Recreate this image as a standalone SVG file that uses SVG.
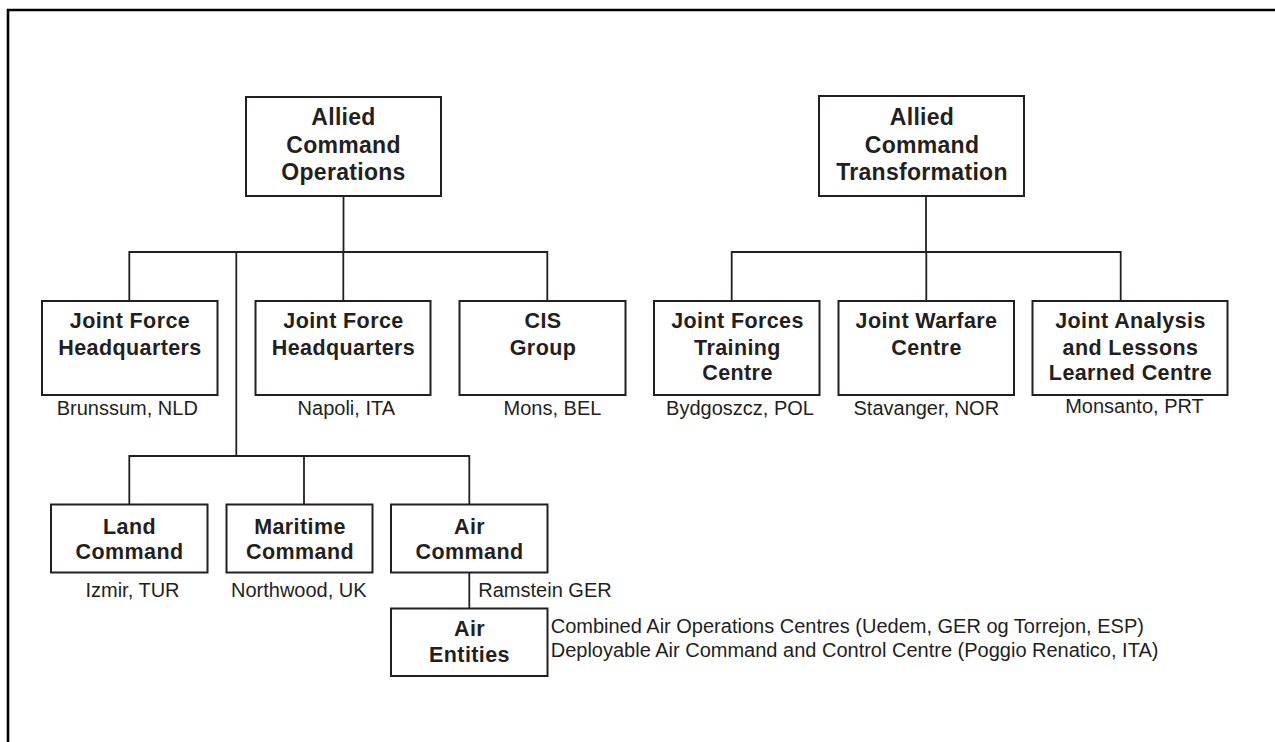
<svg xmlns="http://www.w3.org/2000/svg" width="1275" height="742" viewBox="0 0 1275 742">
<style>
.box{fill:#fff;stroke:#231f20;stroke-width:2}
.t1{font-family:"Liberation Sans",Arial,sans-serif;font-weight:bold;font-size:23px;letter-spacing:0.3px;fill:#231f20;text-anchor:middle}
.t2{font-family:"Liberation Sans",Arial,sans-serif;font-weight:bold;font-size:21.5px;letter-spacing:0.4px;fill:#231f20;text-anchor:middle}
.loc{font-family:"Liberation Sans",Arial,sans-serif;font-size:20px;fill:#231f20;text-anchor:middle}
.note{font-family:"Liberation Sans",Arial,sans-serif;font-size:20px;fill:#231f20}
.con{fill:none;stroke:#231f20;stroke-width:1.8}
</style>
<rect width="1275" height="742" fill="#fff"/>
<path d="M8,742 V10 H1275" fill="none" stroke="#000" stroke-width="2.6"/>

<g id="connectors" class="con">
<path d="M343.5,196 V252"/>
<path d="M129.3,301 V252 H547.3 V301"/>
<path d="M236.3,252 V456"/>
<path d="M343.3,252 V301"/>
<path d="M926,196 V252"/>
<path d="M731.7,301 V252 H1120.7 V301"/>
<path d="M926.3,252 V301"/>
<path d="M129.3,504.5 V456 H469.3 V504.5"/>
<path d="M304,456 V504.5"/>
<path d="M469.3,572.5 V611"/>
</g>

<g id="aco">
<rect class="box" x="246" y="97" width="195" height="99"/>
<text class="t1" x="343.5" y="125">Allied</text>
<text class="t1" x="343.5" y="153">Command</text>
<text class="t1" x="343.5" y="180">Operations</text>
</g>
<g id="act">
<rect class="box" x="819" y="96" width="205" height="100"/>
<text class="t1" x="922" y="125">Allied</text>
<text class="t1" x="922" y="153">Command</text>
<text class="t1" x="922" y="180">Transformation</text>
</g>

<g id="jfhq-brunssum">
<rect class="box" x="42" y="301" width="175.5" height="94"/>
<text class="t2" x="130" y="328">Joint Force</text>
<text class="t2" x="130" y="355">Headquarters</text>
<text class="loc" x="127.3" y="415">Brunssum, NLD</text>
</g>
<g id="jfhq-napoli">
<rect class="box" x="255.5" y="301" width="175" height="94"/>
<text class="t2" x="343.5" y="328">Joint Force</text>
<text class="t2" x="343.5" y="355">Headquarters</text>
<text class="loc" x="346.3" y="415">Napoli, ITA</text>
</g>
<g id="cis">
<rect class="box" x="459.5" y="301" width="166" height="94"/>
<text class="t2" x="543" y="328">CIS</text>
<text class="t2" x="543" y="355">Group</text>
<text class="loc" x="552.5" y="415">Mons, BEL</text>
</g>
<g id="jftc">
<rect class="box" x="654" y="301" width="165.5" height="94"/>
<text class="t2" x="737.5" y="328">Joint Forces</text>
<text class="t2" x="737.5" y="355">Training</text>
<text class="t2" x="737.5" y="380">Centre</text>
<text class="loc" x="740" y="415">Bydgoszcz, POL</text>
</g>
<g id="jwc">
<rect class="box" x="838.5" y="301" width="175.5" height="94"/>
<text class="t2" x="926.5" y="328">Joint Warfare</text>
<text class="t2" x="926.5" y="355">Centre</text>
<text class="loc" x="926.3" y="415">Stavanger, NOR</text>
</g>
<g id="jallc">
<rect class="box" x="1032.5" y="301" width="195" height="94"/>
<text class="t2" x="1130.5" y="328">Joint Analysis</text>
<text class="t2" x="1130.5" y="355">and Lessons</text>
<text class="t2" x="1130.5" y="380">Learned Centre</text>
<text class="loc" x="1134.5" y="412.5">Monsanto, PRT</text>
</g>

<g id="land">
<rect class="box" x="51" y="504.5" width="156.5" height="68"/>
<text class="t2" x="129.5" y="533.5">Land</text>
<text class="t2" x="129.5" y="559">Command</text>
<text class="loc" x="132.5" y="596.7">Izmir, TUR</text>
</g>
<g id="maritime">
<rect class="box" x="226.5" y="504.5" width="146" height="68"/>
<text class="t2" x="300" y="533.5">Maritime</text>
<text class="t2" x="300" y="559">Command</text>
<text class="loc" x="298.8" y="596.7">Northwood, UK</text>
</g>
<g id="air-command">
<rect class="box" x="391" y="504.5" width="156.5" height="68"/>
<text class="t2" x="469.5" y="533.5">Air</text>
<text class="t2" x="469.5" y="559">Command</text>
<text class="note" x="478.3" y="596.7">Ramstein GER</text>
</g>
<g id="air-entities">
<rect class="box" x="391" y="608.5" width="156.5" height="67.5"/>
<text class="t2" x="469.5" y="635.5">Air</text>
<text class="t2" x="469.5" y="661.5">Entities</text>
<text class="note" x="550.7" y="633.3">Combined Air Operations Centres (Uedem, GER og Torrejon, ESP)</text>
<text class="note" x="550.7" y="656.7">Deployable Air Command and Control Centre (Poggio Renatico, ITA)</text>
</g>
</svg>
